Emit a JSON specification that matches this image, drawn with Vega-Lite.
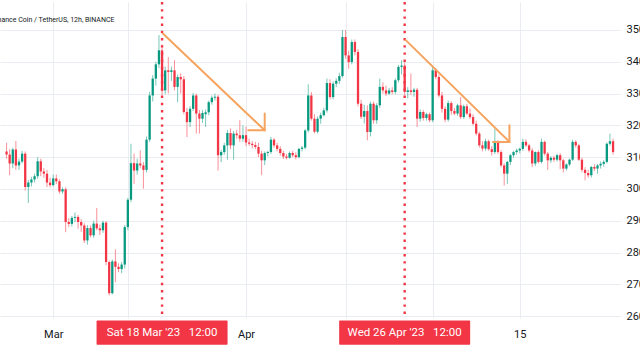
{
 "$schema": "https://vega.github.io/schema/vega-lite/v6.json",
 "width": 620, "height": 316, "padding": 0, "background": "#ffffff",
 "config": {"view": {"stroke": null}, "font": "Roboto",
  "axisY": {"title": null, "orient": "right", "values": [260,270,280,290,300,310,320,330,340,350], "grid": true, "gridColor": "#e9ecf1", "ticks": false, "domain": false, "labelPadding": 6, "labelFontSize": 11, "labelColor": "#131722"}},
 "datasets": {
  "candles": [
{"d":"2023-02-21T12:00","o":311.8,"h":314.5,"l":309.5,"c":310.8},
{"d":"2023-02-22T00:00","o":310.8,"h":312.5,"l":304.3,"c":308.0},
{"d":"2023-02-22T12:00","o":308.0,"h":313.0,"l":306.5,"c":312.4},
{"d":"2023-02-23T00:00","o":312.4,"h":315.1,"l":306.0,"c":307.4},
{"d":"2023-02-23T12:00","o":307.4,"h":309.5,"l":306.0,"c":308.6},
{"d":"2023-02-24T00:00","o":308.6,"h":312.0,"l":308.0,"c":311.1},
{"d":"2023-02-24T12:00","o":311.1,"h":311.8,"l":299.5,"c":300.6},
{"d":"2023-02-25T00:00","o":300.6,"h":302.8,"l":295.6,"c":302.0},
{"d":"2023-02-25T12:00","o":302.0,"h":303.8,"l":300.8,"c":303.0},
{"d":"2023-02-26T00:00","o":303.0,"h":304.8,"l":302.0,"c":304.0},
{"d":"2023-02-26T12:00","o":304.0,"h":310.0,"l":303.2,"c":308.7},
{"d":"2023-02-27T00:00","o":308.7,"h":309.5,"l":304.0,"c":305.5},
{"d":"2023-02-27T12:00","o":305.5,"h":306.5,"l":303.5,"c":304.8},
{"d":"2023-02-28T00:00","o":304.8,"h":306.0,"l":300.6,"c":302.0},
{"d":"2023-02-28T12:00","o":302.0,"h":303.5,"l":300.5,"c":301.2},
{"d":"2023-03-01T00:00","o":301.2,"h":304.5,"l":300.8,"c":303.3},
{"d":"2023-03-01T12:00","o":303.3,"h":304.5,"l":301.5,"c":302.4},
{"d":"2023-03-02T00:00","o":302.4,"h":303.0,"l":298.5,"c":299.2},
{"d":"2023-03-02T12:00","o":299.2,"h":300.5,"l":298.5,"c":299.9},
{"d":"2023-03-03T00:00","o":299.9,"h":300.5,"l":286.4,"c":289.6},
{"d":"2023-03-03T12:00","o":289.6,"h":290.8,"l":288.0,"c":289.0},
{"d":"2023-03-04T00:00","o":289.0,"h":291.5,"l":288.2,"c":290.9},
{"d":"2023-03-04T12:00","o":290.9,"h":292.6,"l":289.5,"c":291.2},
{"d":"2023-03-05T00:00","o":291.2,"h":291.8,"l":287.5,"c":289.6},
{"d":"2023-03-05T12:00","o":289.6,"h":290.5,"l":286.5,"c":288.5},
{"d":"2023-03-06T00:00","o":288.5,"h":289.2,"l":283.0,"c":283.8},
{"d":"2023-03-06T12:00","o":283.8,"h":288.6,"l":282.5,"c":287.7},
{"d":"2023-03-07T00:00","o":287.7,"h":288.5,"l":284.8,"c":285.4},
{"d":"2023-03-07T12:00","o":285.4,"h":290.0,"l":284.6,"c":289.1},
{"d":"2023-03-08T00:00","o":289.1,"h":294.0,"l":287.0,"c":287.6},
{"d":"2023-03-08T12:00","o":287.6,"h":288.8,"l":285.5,"c":287.0},
{"d":"2023-03-09T00:00","o":287.0,"h":290.0,"l":286.2,"c":289.4},
{"d":"2023-03-09T12:00","o":289.4,"h":289.9,"l":276.0,"c":277.0},
{"d":"2023-03-10T00:00","o":277.0,"h":277.5,"l":266.5,"c":267.2},
{"d":"2023-03-10T12:00","o":267.2,"h":277.8,"l":266.8,"c":277.2},
{"d":"2023-03-11T00:00","o":277.2,"h":281.0,"l":270.7,"c":275.5},
{"d":"2023-03-11T12:00","o":275.5,"h":276.6,"l":273.8,"c":274.8},
{"d":"2023-03-12T00:00","o":274.8,"h":277.0,"l":273.5,"c":276.2},
{"d":"2023-03-12T12:00","o":276.2,"h":288.6,"l":275.0,"c":288.0},
{"d":"2023-03-13T00:00","o":288.0,"h":297.2,"l":287.0,"c":296.6},
{"d":"2023-03-13T12:00","o":296.6,"h":314.2,"l":295.8,"c":308.1},
{"d":"2023-03-14T00:00","o":308.1,"h":311.1,"l":301.6,"c":305.8},
{"d":"2023-03-14T12:00","o":305.8,"h":309.5,"l":304.5,"c":308.0},
{"d":"2023-03-15T00:00","o":308.0,"h":312.1,"l":306.5,"c":307.4},
{"d":"2023-03-15T12:00","o":307.4,"h":308.5,"l":300.1,"c":306.0},
{"d":"2023-03-16T00:00","o":306.0,"h":316.5,"l":305.2,"c":315.5},
{"d":"2023-03-16T12:00","o":315.5,"h":330.5,"l":314.8,"c":329.4},
{"d":"2023-03-17T00:00","o":329.4,"h":335.8,"l":327.5,"c":334.7},
{"d":"2023-03-17T12:00","o":334.7,"h":340.0,"l":332.5,"c":339.2},
{"d":"2023-03-18T00:00","o":339.2,"h":348.4,"l":338.0,"c":343.6},
{"d":"2023-03-18T12:00","o":343.6,"h":345.5,"l":329.5,"c":331.0},
{"d":"2023-03-19T00:00","o":331.0,"h":338.5,"l":329.8,"c":337.3},
{"d":"2023-03-19T12:00","o":337.3,"h":341.5,"l":330.0,"c":336.8},
{"d":"2023-03-20T00:00","o":336.8,"h":338.5,"l":334.0,"c":337.3},
{"d":"2023-03-20T12:00","o":337.3,"h":340.5,"l":331.0,"c":332.1},
{"d":"2023-03-21T00:00","o":332.1,"h":336.0,"l":327.3,"c":335.2},
{"d":"2023-03-21T12:00","o":335.2,"h":336.4,"l":330.0,"c":334.5},
{"d":"2023-03-22T00:00","o":334.5,"h":335.5,"l":323.5,"c":324.2},
{"d":"2023-03-22T12:00","o":324.2,"h":325.5,"l":316.3,"c":321.0},
{"d":"2023-03-23T00:00","o":321.0,"h":326.0,"l":319.5,"c":325.2},
{"d":"2023-03-23T12:00","o":325.2,"h":330.2,"l":324.5,"c":329.4},
{"d":"2023-03-24T00:00","o":329.4,"h":330.0,"l":317.4,"c":323.7},
{"d":"2023-03-24T12:00","o":323.7,"h":324.8,"l":317.4,"c":322.1},
{"d":"2023-03-25T00:00","o":322.1,"h":324.8,"l":320.8,"c":323.9},
{"d":"2023-03-25T12:00","o":323.5,"h":325.0,"l":319.5,"c":324.1},
{"d":"2023-03-26T00:00","o":324.1,"h":327.8,"l":323.2,"c":327.3},
{"d":"2023-03-26T12:00","o":327.3,"h":329.4,"l":326.5,"c":328.7},
{"d":"2023-03-27T00:00","o":328.7,"h":330.0,"l":327.8,"c":329.0},
{"d":"2023-03-27T12:00","o":329.0,"h":329.6,"l":305.8,"c":310.6},
{"d":"2023-03-28T00:00","o":310.6,"h":312.3,"l":308.4,"c":311.6},
{"d":"2023-03-28T12:00","o":311.6,"h":314.5,"l":310.8,"c":313.7},
{"d":"2023-03-29T00:00","o":313.7,"h":318.5,"l":309.2,"c":317.6},
{"d":"2023-03-29T12:00","o":317.6,"h":319.0,"l":312.5,"c":313.7},
{"d":"2023-03-30T00:00","o":313.7,"h":318.2,"l":309.2,"c":317.4},
{"d":"2023-03-30T12:00","o":317.4,"h":318.5,"l":315.8,"c":316.9},
{"d":"2023-03-31T00:00","o":316.9,"h":321.6,"l":314.8,"c":315.8},
{"d":"2023-03-31T12:00","o":315.8,"h":320.0,"l":314.8,"c":316.9},
{"d":"2023-04-01T00:00","o":316.9,"h":319.6,"l":313.5,"c":314.6},
{"d":"2023-04-01T12:00","o":314.6,"h":315.8,"l":313.6,"c":314.2},
{"d":"2023-04-02T00:00","o":314.2,"h":315.0,"l":312.8,"c":313.8},
{"d":"2023-04-02T12:00","o":313.8,"h":314.8,"l":312.5,"c":313.2},
{"d":"2023-04-03T00:00","o":313.2,"h":314.5,"l":310.0,"c":311.1},
{"d":"2023-04-03T12:00","o":311.1,"h":312.0,"l":304.3,"c":309.0},
{"d":"2023-04-04T00:00","o":309.0,"h":311.8,"l":307.5,"c":311.3},
{"d":"2023-04-04T12:00","o":311.3,"h":312.0,"l":310.2,"c":311.6},
{"d":"2023-04-05T00:00","o":311.6,"h":316.4,"l":311.0,"c":315.5},
{"d":"2023-04-05T12:00","o":315.5,"h":316.0,"l":313.0,"c":313.7},
{"d":"2023-04-06T00:00","o":313.7,"h":314.5,"l":311.8,"c":312.6},
{"d":"2023-04-06T12:00","o":312.6,"h":313.4,"l":310.5,"c":311.3},
{"d":"2023-04-07T00:00","o":311.3,"h":312.0,"l":309.4,"c":310.2},
{"d":"2023-04-07T12:00","o":310.2,"h":311.0,"l":309.3,"c":309.8},
{"d":"2023-04-08T00:00","o":309.8,"h":311.8,"l":309.5,"c":311.3},
{"d":"2023-04-08T12:00","o":311.3,"h":312.0,"l":310.0,"c":310.6},
{"d":"2023-04-09T00:00","o":310.6,"h":311.5,"l":309.3,"c":310.0},
{"d":"2023-04-09T12:00","o":310.0,"h":312.9,"l":309.6,"c":312.6},
{"d":"2023-04-10T00:00","o":312.6,"h":313.5,"l":311.8,"c":313.0},
{"d":"2023-04-10T12:00","o":313.0,"h":318.8,"l":312.4,"c":318.4},
{"d":"2023-04-11T00:00","o":318.4,"h":332.9,"l":317.8,"c":329.4},
{"d":"2023-04-11T12:00","o":329.4,"h":330.5,"l":321.5,"c":322.1},
{"d":"2023-04-12T00:00","o":322.1,"h":323.5,"l":317.5,"c":318.0},
{"d":"2023-04-12T12:00","o":318.0,"h":322.8,"l":317.5,"c":322.1},
{"d":"2023-04-13T00:00","o":322.1,"h":324.0,"l":320.5,"c":323.2},
{"d":"2023-04-13T12:00","o":323.2,"h":325.5,"l":322.8,"c":324.7},
{"d":"2023-04-14T00:00","o":324.7,"h":334.7,"l":324.0,"c":333.3},
{"d":"2023-04-14T12:00","o":333.3,"h":334.5,"l":328.2,"c":328.9},
{"d":"2023-04-15T00:00","o":328.9,"h":333.8,"l":328.2,"c":333.1},
{"d":"2023-04-15T12:00","o":333.1,"h":334.8,"l":332.0,"c":334.0},
{"d":"2023-04-16T00:00","o":334.0,"h":336.5,"l":333.0,"c":335.5},
{"d":"2023-04-16T12:00","o":335.5,"h":350.0,"l":335.0,"c":347.8},
{"d":"2023-04-17T00:00","o":347.8,"h":350.0,"l":341.0,"c":342.0},
{"d":"2023-04-17T12:00","o":342.0,"h":343.5,"l":337.8,"c":339.9},
{"d":"2023-04-18T00:00","o":339.9,"h":347.0,"l":339.2,"c":346.2},
{"d":"2023-04-18T12:00","o":346.2,"h":347.0,"l":342.0,"c":343.1},
{"d":"2023-04-19T00:00","o":343.1,"h":344.0,"l":326.0,"c":326.8},
{"d":"2023-04-19T12:00","o":326.8,"h":328.0,"l":322.0,"c":322.7},
{"d":"2023-04-20T00:00","o":322.7,"h":326.5,"l":320.6,"c":324.5},
{"d":"2023-04-20T12:00","o":324.5,"h":326.3,"l":315.3,"c":317.9},
{"d":"2023-04-21T00:00","o":317.9,"h":327.5,"l":316.5,"c":326.8},
{"d":"2023-04-21T12:00","o":326.8,"h":327.5,"l":320.5,"c":321.6},
{"d":"2023-04-22T00:00","o":321.6,"h":327.0,"l":320.5,"c":326.3},
{"d":"2023-04-22T12:00","o":326.3,"h":334.7,"l":325.5,"c":332.1},
{"d":"2023-04-23T00:00","o":332.1,"h":333.5,"l":330.0,"c":331.0},
{"d":"2023-04-23T12:00","o":331.0,"h":332.5,"l":329.2,"c":330.0},
{"d":"2023-04-24T00:00","o":330.0,"h":331.8,"l":329.5,"c":331.0},
{"d":"2023-04-24T12:00","o":331.0,"h":332.0,"l":329.8,"c":330.5},
{"d":"2023-04-25T00:00","o":330.5,"h":334.8,"l":329.8,"c":334.2},
{"d":"2023-04-25T12:00","o":334.2,"h":339.0,"l":333.5,"c":338.4},
{"d":"2023-04-26T00:00","o":338.4,"h":340.5,"l":336.0,"c":338.8},
{"d":"2023-04-26T12:00","o":338.8,"h":339.8,"l":329.5,"c":330.5},
{"d":"2023-04-27T00:00","o":330.5,"h":332.0,"l":328.5,"c":331.0},
{"d":"2023-04-27T12:00","o":331.0,"h":336.3,"l":329.5,"c":330.5},
{"d":"2023-04-28T00:00","o":330.5,"h":331.8,"l":329.0,"c":331.2},
{"d":"2023-04-28T12:00","o":331.2,"h":331.8,"l":319.5,"c":322.1},
{"d":"2023-04-29T00:00","o":322.1,"h":325.0,"l":321.2,"c":324.2},
{"d":"2023-04-29T12:00","o":324.2,"h":324.8,"l":321.5,"c":322.3},
{"d":"2023-04-30T00:00","o":322.3,"h":324.0,"l":321.5,"c":323.5},
{"d":"2023-04-30T12:00","o":323.5,"h":324.0,"l":321.0,"c":321.6},
{"d":"2023-05-01T00:00","o":321.6,"h":338.5,"l":321.0,"c":337.3},
{"d":"2023-05-01T12:00","o":337.3,"h":338.0,"l":334.5,"c":335.2},
{"d":"2023-05-02T00:00","o":335.2,"h":336.0,"l":328.8,"c":329.4},
{"d":"2023-05-02T12:00","o":329.4,"h":330.5,"l":324.0,"c":325.2},
{"d":"2023-05-03T00:00","o":325.2,"h":326.0,"l":321.0,"c":321.8},
{"d":"2023-05-03T12:00","o":321.8,"h":327.8,"l":321.2,"c":327.0},
{"d":"2023-05-04T00:00","o":327.0,"h":327.6,"l":323.3,"c":324.5},
{"d":"2023-05-04T12:00","o":324.5,"h":325.5,"l":323.2,"c":323.7},
{"d":"2023-05-05T00:00","o":323.7,"h":326.8,"l":323.0,"c":326.3},
{"d":"2023-05-05T12:00","o":326.3,"h":328.9,"l":322.0,"c":322.6},
{"d":"2023-05-06T00:00","o":322.6,"h":326.5,"l":322.0,"c":326.0},
{"d":"2023-05-06T12:00","o":326.0,"h":326.8,"l":323.3,"c":323.7},
{"d":"2023-05-07T00:00","o":323.7,"h":325.3,"l":322.0,"c":322.6},
{"d":"2023-05-07T12:00","o":322.6,"h":323.5,"l":320.0,"c":320.5},
{"d":"2023-05-08T00:00","o":320.5,"h":321.5,"l":316.8,"c":317.4},
{"d":"2023-05-08T12:00","o":317.4,"h":318.0,"l":313.0,"c":313.7},
{"d":"2023-05-09T00:00","o":313.7,"h":315.0,"l":311.8,"c":312.7},
{"d":"2023-05-09T12:00","o":312.7,"h":315.8,"l":312.0,"c":315.0},
{"d":"2023-05-10T00:00","o":315.0,"h":315.5,"l":312.0,"c":312.5},
{"d":"2023-05-10T12:00","o":312.5,"h":313.5,"l":310.5,"c":311.6},
{"d":"2023-05-11T00:00","o":311.6,"h":319.0,"l":311.0,"c":314.8},
{"d":"2023-05-11T12:00","o":314.8,"h":315.3,"l":311.0,"c":311.6},
{"d":"2023-05-12T00:00","o":311.6,"h":312.2,"l":306.8,"c":307.4},
{"d":"2023-05-12T12:00","o":307.4,"h":308.0,"l":301.1,"c":304.8},
{"d":"2023-05-13T00:00","o":304.8,"h":308.8,"l":301.6,"c":308.5},
{"d":"2023-05-13T12:00","o":308.5,"h":311.0,"l":307.5,"c":310.6},
{"d":"2023-05-14T00:00","o":310.6,"h":312.0,"l":309.8,"c":311.6},
{"d":"2023-05-14T12:00","o":311.6,"h":312.7,"l":310.8,"c":312.1},
{"d":"2023-05-15T00:00","o":312.1,"h":313.0,"l":311.2,"c":312.6},
{"d":"2023-05-15T12:00","o":312.6,"h":315.8,"l":312.0,"c":314.8},
{"d":"2023-05-16T00:00","o":314.8,"h":315.6,"l":313.2,"c":313.7},
{"d":"2023-05-16T12:00","o":313.7,"h":314.2,"l":311.5,"c":312.1},
{"d":"2023-05-17T00:00","o":312.1,"h":312.8,"l":306.9,"c":308.0},
{"d":"2023-05-17T12:00","o":308.0,"h":311.8,"l":307.2,"c":311.6},
{"d":"2023-05-18T00:00","o":311.6,"h":312.2,"l":308.0,"c":308.5},
{"d":"2023-05-18T12:00","o":308.5,"h":315.8,"l":308.0,"c":314.8},
{"d":"2023-05-19T00:00","o":314.8,"h":315.2,"l":310.5,"c":311.1},
{"d":"2023-05-19T12:00","o":311.1,"h":311.6,"l":306.0,"c":309.0},
{"d":"2023-05-20T00:00","o":309.0,"h":310.3,"l":308.2,"c":309.8},
{"d":"2023-05-20T12:00","o":309.8,"h":310.4,"l":308.5,"c":309.2},
{"d":"2023-05-21T00:00","o":309.2,"h":311.0,"l":308.6,"c":310.6},
{"d":"2023-05-21T12:00","o":310.6,"h":311.2,"l":306.2,"c":309.0},
{"d":"2023-05-22T00:00","o":309.0,"h":309.5,"l":305.2,"c":306.4},
{"d":"2023-05-22T12:00","o":306.4,"h":308.0,"l":305.8,"c":307.7},
{"d":"2023-05-23T00:00","o":307.7,"h":309.5,"l":307.2,"c":309.2},
{"d":"2023-05-23T12:00","o":309.2,"h":315.5,"l":308.8,"c":314.8},
{"d":"2023-05-24T00:00","o":314.8,"h":315.3,"l":313.0,"c":313.7},
{"d":"2023-05-24T12:00","o":313.7,"h":314.2,"l":308.8,"c":309.2},
{"d":"2023-05-25T00:00","o":309.2,"h":309.8,"l":305.2,"c":306.0},
{"d":"2023-05-25T12:00","o":306.0,"h":306.8,"l":302.7,"c":305.0},
{"d":"2023-05-26T00:00","o":305.0,"h":306.0,"l":303.5,"c":304.3},
{"d":"2023-05-26T12:00","o":304.3,"h":307.3,"l":303.6,"c":306.9},
{"d":"2023-05-27T00:00","o":306.9,"h":307.8,"l":305.6,"c":306.4},
{"d":"2023-05-27T12:00","o":306.4,"h":307.8,"l":304.8,"c":307.4},
{"d":"2023-05-28T00:00","o":307.4,"h":308.6,"l":306.4,"c":307.9},
{"d":"2023-05-28T12:00","o":307.9,"h":309.0,"l":307.0,"c":308.5},
{"d":"2023-05-29T00:00","o":308.5,"h":314.6,"l":308.0,"c":314.2},
{"d":"2023-05-29T12:00","o":314.2,"h":317.4,"l":313.6,"c":315.0},
{"d":"2023-05-30T00:00","o":315.0,"h":315.8,"l":310.8,"c":311.6}
  ],
  "events": [
   {"d":"2023-03-18T12:00","label":"Sat 18 Mar '23\u00a0\u00a0\u00a012:00"},
   {"d":"2023-04-26T12:00","label":"Wed 26 Apr '23\u00a0\u00a0\u00a012:00"}
  ],
  "arrows": [
   {"g":"a","i":0,"d":"2023-03-18T16:00","p":348.8},
   {"g":"a","i":1,"d":"2023-04-04T00:00","p":318.45},
   {"g":"b","i":0,"d":"2023-04-01T08:40","p":318.45},
   {"g":"b","i":1,"d":"2023-04-04T00:00","p":318.45},
   {"g":"b","i":2,"d":"2023-04-04T00:00","p":323.7},
   {"g":"c","i":0,"d":"2023-04-26T16:00","p":346.8},
   {"g":"c","i":1,"d":"2023-05-13T08:10","p":314.8},
   {"g":"e","i":0,"d":"2023-05-10T17:00","p":314.8},
   {"g":"e","i":1,"d":"2023-05-13T08:10","p":314.8},
   {"g":"e","i":2,"d":"2023-05-13T08:10","p":320.0}
  ],
  "caption": [{"d":"2023-02-19T02:00","text":"Binance Coin / TetherUS, 12h, BINANCE"}]
 },
 "encoding": {
  "x": {"field": "d", "type": "temporal",
   "scale": {"domain": [{"year":2023,"month":2,"date":21,"hours":6}, {"year":2023,"month":5,"date":30,"hours":7,"minutes":30}]},
   "axis": {"title": null, "values": [{"year":2023,"month":3,"date":1},{"year":2023,"month":3,"date":13},{"year":2023,"month":4,"date":1},{"year":2023,"month":4,"date":17},{"year":2023,"month":5,"date":1},{"year":2023,"month":5,"date":15}],
    "labelExpr": "timeFormat(datum.value, '%m-%d') == '03-01' ? 'Mar' : timeFormat(datum.value, '%m-%d') == '04-01' ? 'Apr' : timeFormat(datum.value, '%m-%d') == '05-15' ? '15' : ''",
    "grid": true, "gridColor": "#e9ecf1", "gridWidth": 1, "ticks": false, "domain": false,
    "labelPadding": 10, "labelFontSize": 11, "labelColor": "#131722", "labelFlush": false, "labelOverlap": false}}
 },
 "layer": [
  {"data": {"name": "candles"}, "mark": {"type": "rule", "strokeWidth": 1, "opacity": 0.55},
   "encoding": {
    "y": {"field": "l", "type": "quantitative", "title": null, "scale": {"domain": [259.4, 358.8], "nice": false, "zero": false}},
    "y2": {"field": "h"},
    "color": {"condition": {"test": "datum.c >= datum.o", "value": "#089981"}, "value": "#f23645"}}},
  {"data": {"name": "candles"}, "mark": {"type": "bar", "width": 2.3},
   "encoding": {
    "y": {"field": "o", "type": "quantitative", "title": null, "scale": {"domain": [259.4, 358.8], "nice": false, "zero": false}},
    "y2": {"field": "c"},
    "color": {"condition": {"test": "datum.c >= datum.o", "value": "#089981"}, "value": "#f23645"}}},
  {"data": {"name": "events"}, "mark": {"type": "rule", "color": "#f23645", "strokeWidth": 2.4, "strokeDash": [2.4, 4.8]},
   "encoding": {}},
  {"data": {"name": "arrows"}, "mark": {"type": "line", "color": "#f6a35e", "strokeWidth": 2, "strokeCap": "round", "strokeJoin": "miter"},
   "encoding": {
    "y": {"field": "p", "type": "quantitative", "title": null, "scale": {"domain": [259.4, 358.8], "nice": false, "zero": false}},
    "detail": {"field": "g"}, "order": {"field": "i"}}},
  {"data": {"name": "events"}, "mark": {"type": "bar", "width": 131, "color": "#f23645", "cornerRadius": 1},
   "encoding": {
    "y": {"datum": 258.6, "type": "quantitative", "title": null, "scale": {"domain": [259.4, 358.8], "nice": false, "zero": false}},
    "y2": {"datum": 251.0}}},
  {"data": {"name": "events"}, "mark": {"type": "text", "color": "#ffffff", "fontSize": 11.5, "align": "center", "baseline": "middle"},
   "encoding": {
    "y": {"datum": 254.8, "type": "quantitative", "title": null, "scale": {"domain": [259.4, 358.8], "nice": false, "zero": false}},
    "text": {"field": "label"}}},
  {"data": {"name": "caption"}, "mark": {"type": "text", "color": "#131722", "fontSize": 7, "align": "left", "baseline": "middle", "clip": true},
   "encoding": {
    "y": {"datum": 353.05, "type": "quantitative", "title": null, "scale": {"domain": [259.4, 358.8], "nice": false, "zero": false}},
    "text": {"field": "text"}}}
 ]
}
